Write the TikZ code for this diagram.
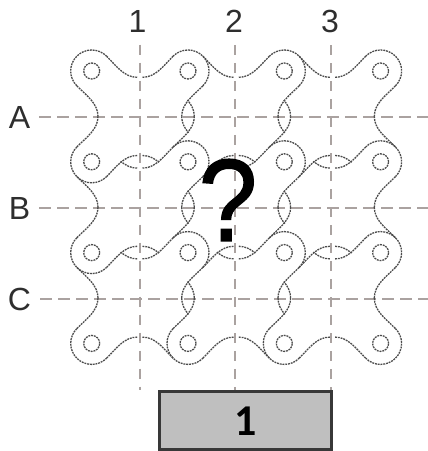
\documentclass[tikz,border=0pt]{standalone}
\usepackage{fontspec}
\setmainfont{Liberation Sans}
\newfontfamily\boxfont{Carlito}
\newfontfamily\askfont[FakeBold=1.2]{Liberation Sans}
\usetikzlibrary{calc,
positioning}

% half of a tile edge, from the waist to the lobe (local frame: lobe centre at origin)
\newcommand{\halflong}{(6.3,45.5) .. controls (6.3,32.5) and (-4.85,24.85) .. (-14.85,14.85)}
\newcommand{\halfshort}{(6.3,45.5) .. controls (6.3,39) and (3.5,33.8) .. (-.5,29)}

\definecolor{gridgray}{HTML}{AAA2A0}
\tikzset{
  wave/.style={draw = black!70, line width = 1.3pt, dash pattern = on 1.9pt off .9pt},
  gridline/.style={draw = gridgray, line width = 1.2pt},
  axis label/.style={font = \fontsize{32}{32}\selectfont, text = black!82, inner sep = 2pt}
}

% #1 corner, #2 #3 directions into the tile, #4 #5 vertical and horizontal half
\newcommand{\tilecorner}[5]{
  \draw [wave, shift = {(c#1)}, xscale = #2, yscale = -#3] #4;
  \draw [wave, shift = {(c#1)}, xscale = #2, yscale = -#3, cm = {0,1,1,0,(0,0)}] #5;
}

\begin{document}
\begin{tikzpicture} [x = 1pt, y = 1pt]
  \useasboundingbox (0,0) rectangle (428,451);

  % axis labels and grid lines
  \foreach \name/\xpos/\lablx in {1/140/137.5, 2/235/234, 3/331/330} {
    \node [axis label] (col\name) at (\lablx, 429.5) {\name};
    \coordinate (colend\name) at (\xpos, 61);
    \draw [gridline, dash pattern = on 10pt off 8pt] (colend\name |- col\name.south) ++ (0,-10) -- (colend\name);
  }
  \foreach \name/\ypos in {A/334, B/243, C/152} {
    \node [axis label] (row\name) at (19.5, \ypos) {\name};
    \coordinate (rowend\name) at (428, \ypos);
    \draw [gridline, dash pattern = on 12pt off 6pt, shorten <= 7pt] (row\name) -- (rowend\name);
  }

  % hole in every corner
  \foreach \i in {0,...,3} {
    \foreach \j in {0,...,3} {
      \coordinate (c\i\j) at ({91.7 + 96.3 * \i}, {380 - 90.8 * \j});
      \draw [wave] (c\i\j) circle (8);
    }
  }

  % visible lobes
  \foreach \corner/\sx/\sy in {00/1/1, 10/-1/1, 20/-1/1, 30/-1/1,
      01/1/-1, 11/-1/1, 21/-1/1, 31/-1/1,
      02/1/-1, 12/-1/1, 22/-1/1, 32/-1/1,
      03/1/-1, 13/1/-1, 23/1/-1, 33/-1/-1} {
    \tilecorner{\corner}{\sx}{\sy}{\halflong}{\halflong}
    \draw [wave, shift = {(c\corner)}, xscale = \sx, yscale = -\sy]
    (-14.85,14.85) arc [start angle = 135, end angle = 315, radius = 21];
  }

  % hidden lobes
  \foreach \corner in {11, 21, 12, 22} {
    \tilecorner{\corner}{1}{-1}{\halflong}{\halflong}
    \tilecorner{\corner}{1}{1}{\halfshort}{\halfshort}
    \tilecorner{\corner}{-1}{-1}{\halfshort}{\halfshort}
  }
  \foreach \corner/\sx/\sy in {01/1/1, 02/1/1, 31/-1/-1, 32/-1/-1} {
    \tilecorner{\corner}{\sx}{\sy}{\halflong}{\halfshort}
  }
  \foreach \corner/\sx/\sy in {10/1/1, 20/1/1, 13/-1/-1, 23/-1/-1} {
    \tilecorner{\corner}{\sx}{\sy}{\halfshort}{\halflong}
  }

  \node [draw = black!78, fill = black!25, line width = 3pt,
    minimum width = 171.5pt, minimum height = 58.5pt,
    inner sep = 0pt, font = \boxfont\bfseries\fontsize{44}{44}\selectfont
  ] (piece) at (245.7, 30.25) {1};

  \node [font = \askfont\fontsize{117}{117}\selectfont, inner sep = 0pt,
    xscale = .9, transform shape] (unknown) at (228, 251) {?};

\end{tikzpicture}
\end{document}
